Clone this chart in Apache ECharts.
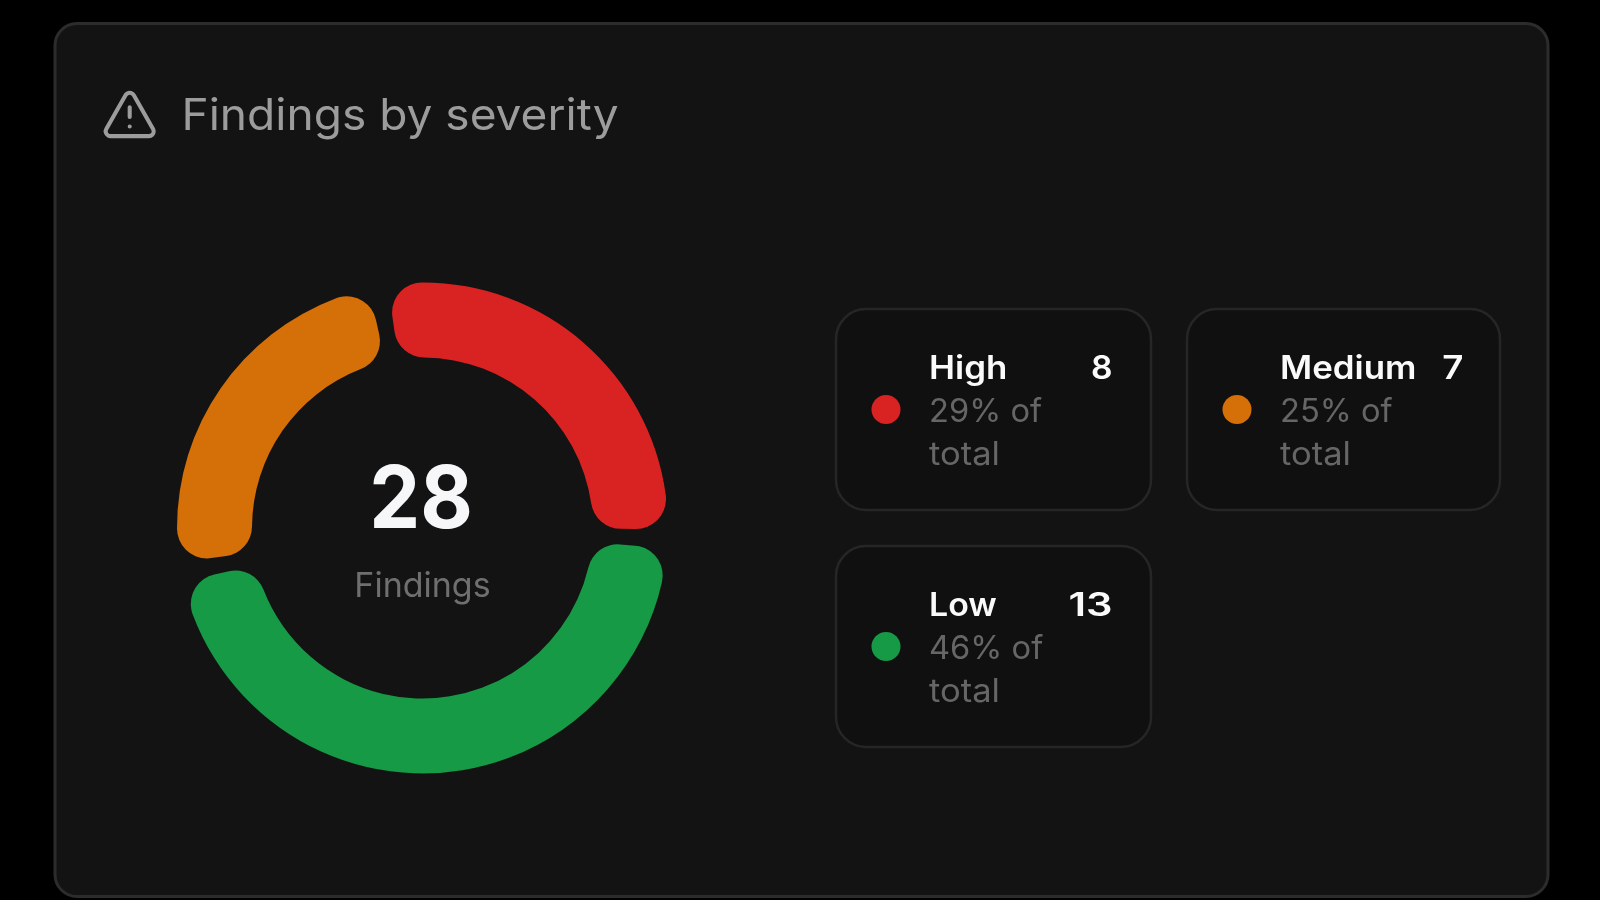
<!DOCTYPE html>
<html>
<head>
<meta charset="utf-8">
<style>
html,body{margin:0;padding:0;background:#000;}
#chart{width:1600px;height:900px;}
</style>
<script src="https://cdn.jsdelivr.net/npm/echarts@6/dist/echarts.min.js"></script>
</head>
<body>
<div id="chart"></div>
<script>
const titleText = 'Findings by severity';
const centerValue = '28';
const centerLabel = 'Findings';
const categories = ['High', 'Medium', 'Low'];
const values = [8, 7, 13];
const shares = ['29% of', '25% of', '46% of'];
const shareSuffix = 'total';
const colors = ['#d92323', '#d56f08', '#169a45'];

const FONT = 'Inter, sans-serif';
const cardBoxes = [[836, 309, 315], [1187, 309, 313], [836, 546, 315]];
const cardH = 201;
const nameStretch = [1.09, 1.09, 1.06];
const valueStretch = [1.05, 1.15, 1.3];

echarts.graphic.registerShape('alertIcon', echarts.graphic.extendPath(
  'M21.73 18l-8-14a2 2 0 0 0-3.48 0l-8 14A2 2 0 0 0 4 21h16a2 2 0 0 0 1.73-3ZM12 9v4M12 17h.01'
));

function text(str, x, y, size, weight, fill, align, stretch) {
  return {
    type: 'text', x: x, y: y, silent: true, scaleX: stretch || 1,
    style: { text: str, fontFamily: FONT, fontSize: size, fontWeight: weight, fill: fill,
      align: align || 'left', verticalAlign: 'middle' }
  };
}

const graphics = [
  { type: 'rect', z: -10, shape: { x: 55, y: 23.5, width: 1493, height: 873, r: 22 },
    style: { fill: '#131313', stroke: '#2c2c2c', lineWidth: 3 } },
  { type: 'alertIcon', x: 100.9, y: 85.7, scaleX: 2.4, scaleY: 2.4,
    style: { fill: 'none', stroke: '#9c9c9c', lineWidth: 1.7, lineCap: 'round', lineJoin: 'round' } },
  text(titleText, 181.5, 117, 44, 400, '#9c9c9c', 'left', 1.047),
  text(centerValue, 421, 502, 87, 700, '#f6f7f9', 'center', 0.93),
  text(centerLabel, 422.5, 587, 34, 400, '#6f6f6f', 'center')
];

categories.forEach(function (name, i) {
  const bx = cardBoxes[i][0], by = cardBoxes[i][1], bw = cardBoxes[i][2];
  graphics.push(
    { type: 'rect', z: -5, shape: { x: bx, y: by, width: bw, height: cardH, r: 30 },
      style: { fill: '#101010', stroke: '#262626', lineWidth: 2.5 } },
    { type: 'circle', shape: { cx: bx + 50, cy: by + 100.5, r: 14.5 }, style: { fill: colors[i] } },
    text(name, bx + 93, by + 60, 32, 600, '#fafafa', 'left', nameStretch[i]),
    text(String(values[i]), bx + 276.5, by + 60, 32, 600, '#fafafa', 'right', valueStretch[i]),
    text(shares[i], bx + 93, by + 103, 32, 400, '#666666', 'left', 1.02),
    text(shareSuffix, bx + 93, by + 146, 32, 400, '#666666', 'left', 1.08)
  );
});

const chart = echarts.init(document.getElementById('chart'), null, { renderer: 'canvas' });
chart.setOption({
  animation: false,
  backgroundColor: '#000000',
  graphic: { elements: graphics },
  series: [{
    type: 'pie',
    center: [422.5, 528],
    radius: [170.5, 245.5],
    startAngle: -2.5,
    clockwise: false,
    padAngle: 4.5,
    silent: true,
    label: { show: false },
    labelLine: { show: false },
    itemStyle: { borderRadius: 30 },
    data: categories.map(function (name, i) {
      return { name: name, value: values[i], itemStyle: { color: colors[i] } };
    })
  }]
});
</script>
</body>
</html>
